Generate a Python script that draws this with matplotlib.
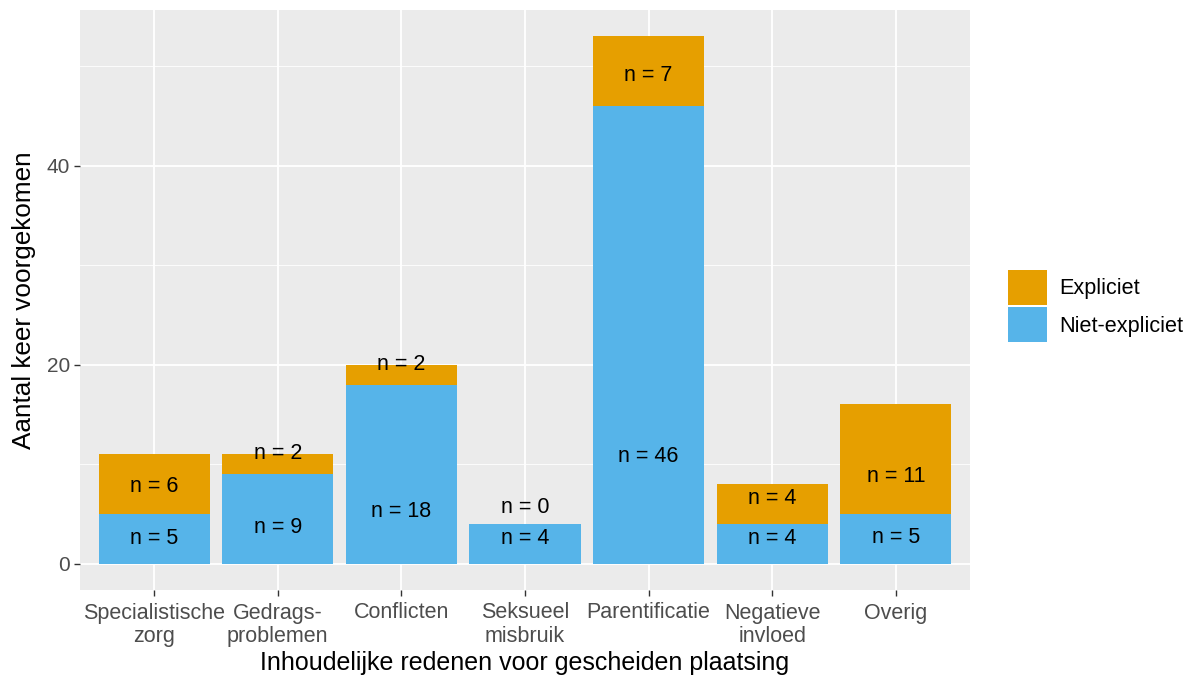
import numpy as np
import matplotlib
matplotlib.use("Agg")
import matplotlib.pyplot as plt
from matplotlib.patches import Patch

plt.rcParams['font.family'] = ['Liberation Sans', 'DejaVu Sans']

# Data
categorieen = ['Specialistische\nzorg', 'Gedrags-\nproblemen', 'Conflicten', 'Seksueel\nmisbruik',
               'Parentificatie', 'Negatieve\ninvloed', 'Overig']
niet_expliciet = [5, 9, 18, 4, 46, 4, 5]
expliciet = [6, 2, 2, 0, 7, 4, 11]
label_y_niet = [2.5, 3.6, 5.2, 2.5, 10.8, 2.5, 2.6]
label_y_expl = [7.8, 11.1, 20.0, 5.6, 49.1, 6.5, 8.8]

kleur_expl = '#E69F00'
kleur_niet = '#56B4E9'

fig = plt.figure(figsize=(11.92, 6.79), dpi=100)
ax = fig.add_axes([80/1192, 1 - 590/679, 890/1192, 580/679])
ax.set_facecolor('#EBEBEB')

x = np.arange(1, len(categorieen) + 1)
ax.bar(x, niet_expliciet, width=0.9, color=kleur_niet, zorder=3)
ax.bar(x, expliciet, width=0.9, bottom=niet_expliciet, color=kleur_expl, zorder=3)

for xi, n, y in zip(x, niet_expliciet, label_y_niet):
    ax.text(xi, y, f'n = {n}', ha='center', va='center', fontsize=15.5, color='black', zorder=4)
for xi, n, y in zip(x, expliciet, label_y_expl):
    ax.text(xi, y, f'n = {n}', ha='center', va='center', fontsize=15.5, color='black', zorder=4)

totaal = np.array(niet_expliciet) + np.array(expliciet)
ymax = totaal.max()
ax.set_ylim(-0.05 * ymax, ymax * 1.05)
ax.set_xlim(0.4, len(categorieen) + 0.6)

ax.set_xticks(x)
ax.set_xticklabels(categorieen, fontsize=15.5, color='#4D4D4D', linespacing=1.15)
ax.set_yticks([0, 20, 40])
ax.set_yticklabels(['0', '20', '40'], fontsize=15, color='#4D4D4D')
ax.set_yticks([10, 30, 50], minor=True)
ax.tick_params(axis='x', which='major', length=4, width=1, color='#333333', pad=5)
ax.tick_params(axis='y', which='major', length=4, width=1, color='#333333', pad=3)
ax.tick_params(axis='y', which='minor', length=0)

ax.grid(True, which='major', color='white', linewidth=1.3, zorder=0)
ax.grid(True, which='minor', axis='y', color='white', linewidth=0.6, zorder=0)
for s in ax.spines.values():
    s.set_visible(False)
ax.set_axisbelow(True)

ax.set_xlabel('Inhoudelijke redenen voor gescheiden plaatsing', fontsize=18, labelpad=3)
ax.set_ylabel('Aantal keer voorgekomen', fontsize=18.8, labelpad=8)

handles = [Patch(facecolor=kleur_expl, label='Expliciet'),
           Patch(facecolor=kleur_niet, label='Niet-expliciet')]
fig.legend(handles=handles, loc='center left', bbox_to_anchor=(999/1192, 1 - 306/679),
           frameon=False, fontsize=15.6, handlelength=1.8, handleheight=2.1,
           labelspacing=0.12, handletextpad=0.6, borderaxespad=0)

fig.savefig('out.png', dpi=100)
